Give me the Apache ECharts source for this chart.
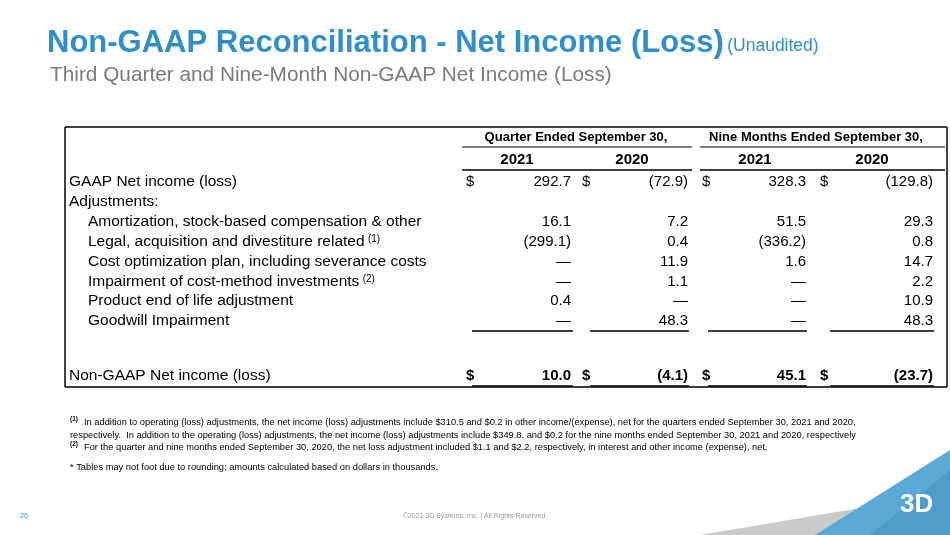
<!DOCTYPE html><html><head><meta charset="utf-8"><script src="https://cdn.jsdelivr.net/npm/echarts@6/dist/echarts.min.js"></script>
<style>html,body{margin:0;padding:0;background:#fff}#c{width:950px;height:535px}</style></head><body><div id="c"></div><script>
const groups=["Quarter Ended September 30,","Nine Months Ended September 30,"];
const years=["2021","2020","2021","2020"];
const rowLabels=["GAAP Net income (loss)","Adjustments:","Amortization, stock-based compensation & other","Legal, acquisition and divestiture related","Cost optimization plan, including severance costs","Impairment of cost-method investments","Product end of life adjustment","Goodwill Impairment"];
const rowNotes=["","","","(1)","","(2)","",""];
const q2021=["292.7","","16.1","(299.1)","—","—","0.4","—"];
const q2020=["(72.9)","","7.2","0.4","11.9","1.1","—","48.3"];
const n2021=["328.3","","51.5","(336.2)","1.6","—","—","—"];
const n2020=["(129.8)","","29.3","0.8","14.7","2.2","10.9","48.3"];
const totalLabel="Non-GAAP Net income (loss)";
const totals=["10.0","(4.1)","45.1","(23.7)"];
const footnotes=["In addition to operating (loss) adjustments, the net income (loss) adjustments include $310.5 and $0.2 in other income/(expense), net for the quarters ended September 30, 2021 and 2020,","respectively.  In addition to the operating (loss) adjustments, the net income (loss) adjustments include $349.8. and $0.2 for the nine months ended September 30, 2021 and 2020, respectively","For the quarter and nine months ended September 30, 2020, the net loss adjustment included $1.1 and $2.2, respectively, in interest and other income (expense), net."];
const F='Arial, "Liberation Sans", sans-serif';
const g=[];
const T=(x,y,t,o)=>g.push(Object.assign({type:'text',x,y,style:Object.assign({text:t,font:'15px '+F,fill:'#000',textVerticalAlign:'middle'},o||{})}));
const L=(x1,y1,x2,y2,w,c)=>g.push({type:'line',shape:{x1,y1,x2,y2},style:{stroke:c||'#000',lineWidth:w||1}});
g.push({type:'polygon',shape:{points:[[700,535],[860,508],[950,505],[950,535]]},style:{fill:'#c9cacc'}});
g.push({type:'polygon',shape:{points:[[815,535],[950,450],[950,535]]},style:{fill:'#5aa9d6'}});
g.push({type:'polygon',shape:{points:[[870,535],[950,470],[950,535]]},style:{fill:'#4e9ccb'}});
T(900,505,'3D',{font:'bold 26px '+F,fill:'#fff'});
g.push({type:'text',x:47,y:43,style:{text:'{a|Non-GAAP Reconciliation - Net Income (Loss)} {b|(Unaudited)}',textVerticalAlign:'middle',rich:{a:{font:'bold 31px '+F,fill:'#2f8fcd'},b:{font:'17.5px '+F,fill:'#2f8fcd',padding:[7,0,0,0]}}}});
T(50,75,'Third Quarter and Nine-Month Non-GAAP Net Income (Loss)',{font:'20.8px '+F,fill:'#7a7a7a'});
L(65,127,947,127,1.5);L(65,127,65,387,1.5);L(947,127,947,387,1.5);L(65,387,947,387,1.5);
const gc=[576,816];
groups.forEach((s,i)=>T(gc[i],137,s,{font:'bold 13px '+F,textAlign:'center'}));
L(462,147,692,147);L(700,147,945,147);
const yc=[517,632,755,872];
years.forEach((s,i)=>T(yc[i],160,s,{font:'bold 15px '+F,textAlign:'center'}));
L(462,170,692,170,1.5);L(700,170,945,170,1.5);
const rY=[182,202,222,242,262,282,301,321];
const dollarX=[466,582,702,820], valR=[571,688,806,933];
const cols=[q2021,q2020,n2021,n2020];
rowLabels.forEach((s,i)=>{
  const x=i<2?69:88;
  g.push({type:'text',x,y:rY[i],style:{text:rowNotes[i]?'{a|'+s+'} {n|'+rowNotes[i]+'}':'{a|'+s+'}',textVerticalAlign:'middle',rich:{a:{font:'15.5px '+F,fill:'#000'},n:{font:'10px '+F,fill:'#000',padding:[0,0,6,0]}}}});
  cols.forEach((c,j)=>{if(c[i])T(valR[j],rY[i],c[i],{textAlign:'right'});});
  if(i===0)dollarX.forEach(x=>T(x,rY[i],'$'));
});
const ulX=[[472,573],[590,689],[708,807],[830,934]];
ulX.forEach(u=>{L(u[0],331,u[1],331,1.5);L(u[0],386,u[1],386,1.5)});
T(69,376,totalLabel,{font:'15.5px '+F});
totals.forEach((v,j)=>{T(dollarX[j],376,'$',{font:'bold 15px '+F});T(valR[j],376,v,{font:'bold 15px '+F,textAlign:'right'});});
const fy=[422,435,447];
T(70,fy[0]-3,'(1)',{font:'bold 6.5px '+F});
T(84,fy[0],footnotes[0],{font:'9.3px '+F});
T(70,fy[1],footnotes[1],{font:'9.3px '+F});
T(70,fy[2]-3,'(2)',{font:'bold 6.5px '+F});
T(84,fy[2],footnotes[2],{font:'9.3px '+F});
T(70,467,'* Tables may not foot due to rounding; amounts calculated based on dollars in thousands.',{font:'9.3px '+F});
T(20,516,'26',{font:'7px '+F,fill:'#2f8fcd'});
T(475,516,'©2021 3D Systems, Inc. | All Rights Reserved.',{font:'7px '+F,fill:'#999',textAlign:'center'});
const ch=echarts.init(document.getElementById('c'));
ch.setOption({animation:false,graphic:{elements:g}});
</script></body></html>
